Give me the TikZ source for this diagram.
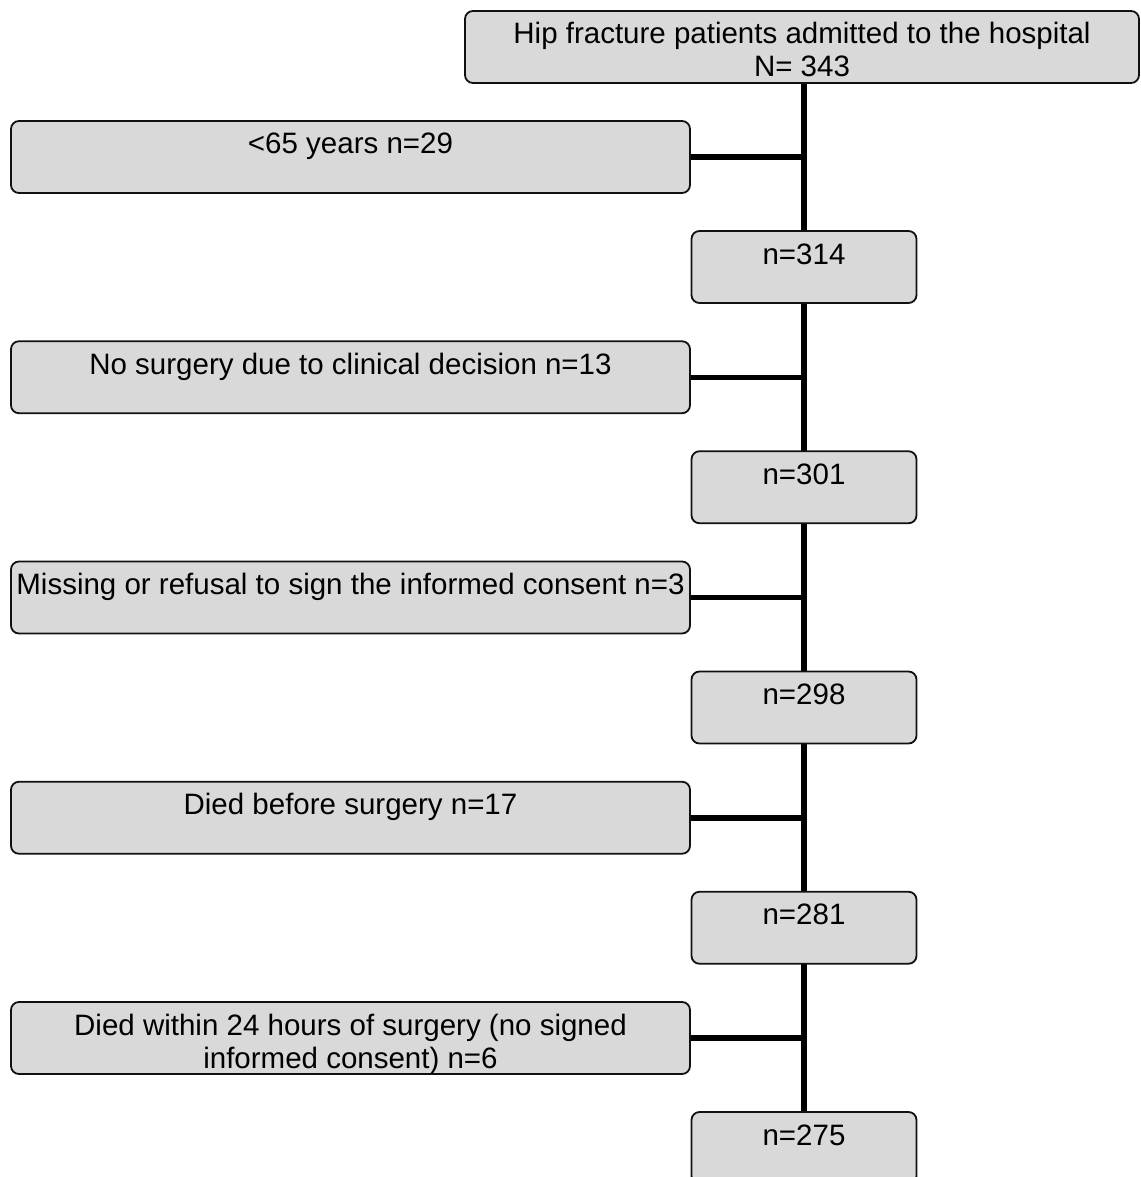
\documentclass[tikz,border=0pt]{standalone}
\usepackage{fontspec}
\setmainfont{Liberation Sans}
\usetikzlibrary{positioning,backgrounds}
\definecolor{Shade}{HTML}{D9D9D9}
\definecolor{Ink}{HTML}{111111}

\begin{document}
\begin{tikzpicture}[
    x=1pt, y=-1pt,
    node distance=146.45pt,
    stage/.style={draw=Ink, line width=1.8pt, rounded corners=8pt, fill=Shade, inner sep=0pt,
      align=center, text height=33pt, text depth=39pt, font=\fontsize{29.5pt}{33pt}\selectfont},
    twoline/.style={text height=66pt, text depth=6pt},
    count/.style={stage, minimum width=225pt},
    excluded/.style={stage, minimum width=679pt},
    link/.style={line width=5.5pt, draw=black}
  ]
  \useasboundingbox (0,0) rectangle (1140,1177);
  \node[stage, twoline, minimum width=674pt] (admitted) at (802,47) {Hip fracture patients admitted to the hospital\\N= 343};
  \node[excluded] (young) at (350.5,157) {<65 years n=29};
  \node[excluded, below=of young] (nosurgery) {No surgery due to clinical decision n=13};
  \node[excluded, below=of nosurgery] (noconsent) {Missing or refusal to sign the informed consent n=3};
  \node[excluded, below=of noconsent] (diedbefore) {Died before surgery n=17};
  \node[excluded, twoline, below=of diedbefore] (diedafter) {Died within 24 hours of surgery (no signed\\informed consent) n=6};
  \node[count] (n314) at (804,267) {n=314};
  \node[count, below=of n314] (n301) {n=301};
  \node[count, below=of n301] (n298) {n=298};
  \node[count, below=of n298] (n281) {n=281};
  \node[count, below=of n281] (n275) {n=275};
  \coordinate (foot) at (804,1177);
  \begin{pgfonlayer}{background}
    \draw[link] (admitted.south -| n314.north) -- (foot);
    \draw[link] (young.east) -- (young.east -| n314.north);
    \draw[link] (nosurgery.east) -- (nosurgery.east -| n314.north);
    \draw[link] (noconsent.east) -- (noconsent.east -| n314.north);
    \draw[link] (diedbefore.east) -- (diedbefore.east -| n314.north);
    \draw[link] (diedafter.east) -- (diedafter.east -| n314.north);
  \end{pgfonlayer}
\end{tikzpicture}
\end{document}
